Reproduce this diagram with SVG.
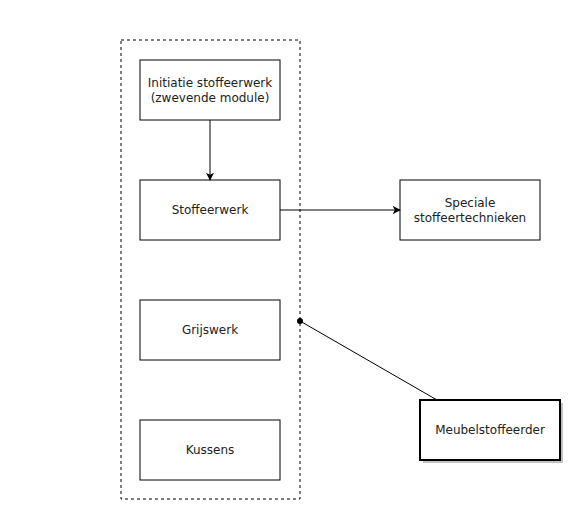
<svg xmlns="http://www.w3.org/2000/svg" width="568" height="505" viewBox="0 0 568 505">
<style>
.box{fill:#fff;stroke:#000;stroke-width:1}
.lbl{font-family:"DejaVu Sans",Verdana,sans-serif;font-size:12px;fill:#222;text-anchor:middle;dominant-baseline:central}
.edge{fill:none;stroke:#000;stroke-width:1}
</style>
<defs>
<marker id="arr" viewBox="0 0 10 10" refX="9" refY="5" markerWidth="8" markerHeight="8" markerUnits="userSpaceOnUse" orient="auto">
<path d="M0,0 L10,5 L0,10 L2.5,5 Z" fill="#000"/>
</marker>
</defs>
<rect width="568" height="505" fill="#fff"/>
<g id="container">
<rect x="121" y="40" width="179" height="459" fill="none" stroke="#000" stroke-dasharray="3,3"/>
</g>
<g id="initiatie">
<rect class="box" x="140" y="60" width="140" height="60"/>
<text class="lbl" x="210" y="83">Initiatie stoffeerwerk</text>
<text class="lbl" x="210" y="98">(zwevende module)</text>
</g>
<g id="stoffeerwerk">
<rect class="box" x="140" y="180" width="140" height="60"/>
<text class="lbl" x="210" y="210">Stoffeerwerk</text>
</g>
<g id="grijswerk">
<rect class="box" x="140" y="300" width="140" height="60"/>
<text class="lbl" x="210" y="330">Grijswerk</text>
</g>
<g id="kussens">
<rect class="box" x="140" y="420" width="140" height="60"/>
<text class="lbl" x="210" y="450">Kussens</text>
</g>
<g id="speciale">
<rect class="box" x="400" y="180" width="140" height="60"/>
<text class="lbl" x="470" y="203">Speciale</text>
<text class="lbl" x="470" y="218">stoffeertechnieken</text>
</g>
<g id="meubelstoffeerder">
<rect x="423" y="403" width="140" height="60" fill="#999" opacity="0.6"/>
<rect x="420" y="400" width="140" height="60" fill="#fff" stroke="#000" stroke-width="2"/>
<text class="lbl" x="490" y="430">Meubelstoffeerder</text>
</g>
<g id="connectors">
<path class="edge" d="M210,120 L210,180" marker-end="url(#arr)"/>
<path class="edge" d="M280,210 L400,210" marker-end="url(#arr)"/>
<path class="edge" d="M300,321 L437,400"/>
<circle cx="300" cy="321" r="3" fill="#000"/>
</g>
</svg>
